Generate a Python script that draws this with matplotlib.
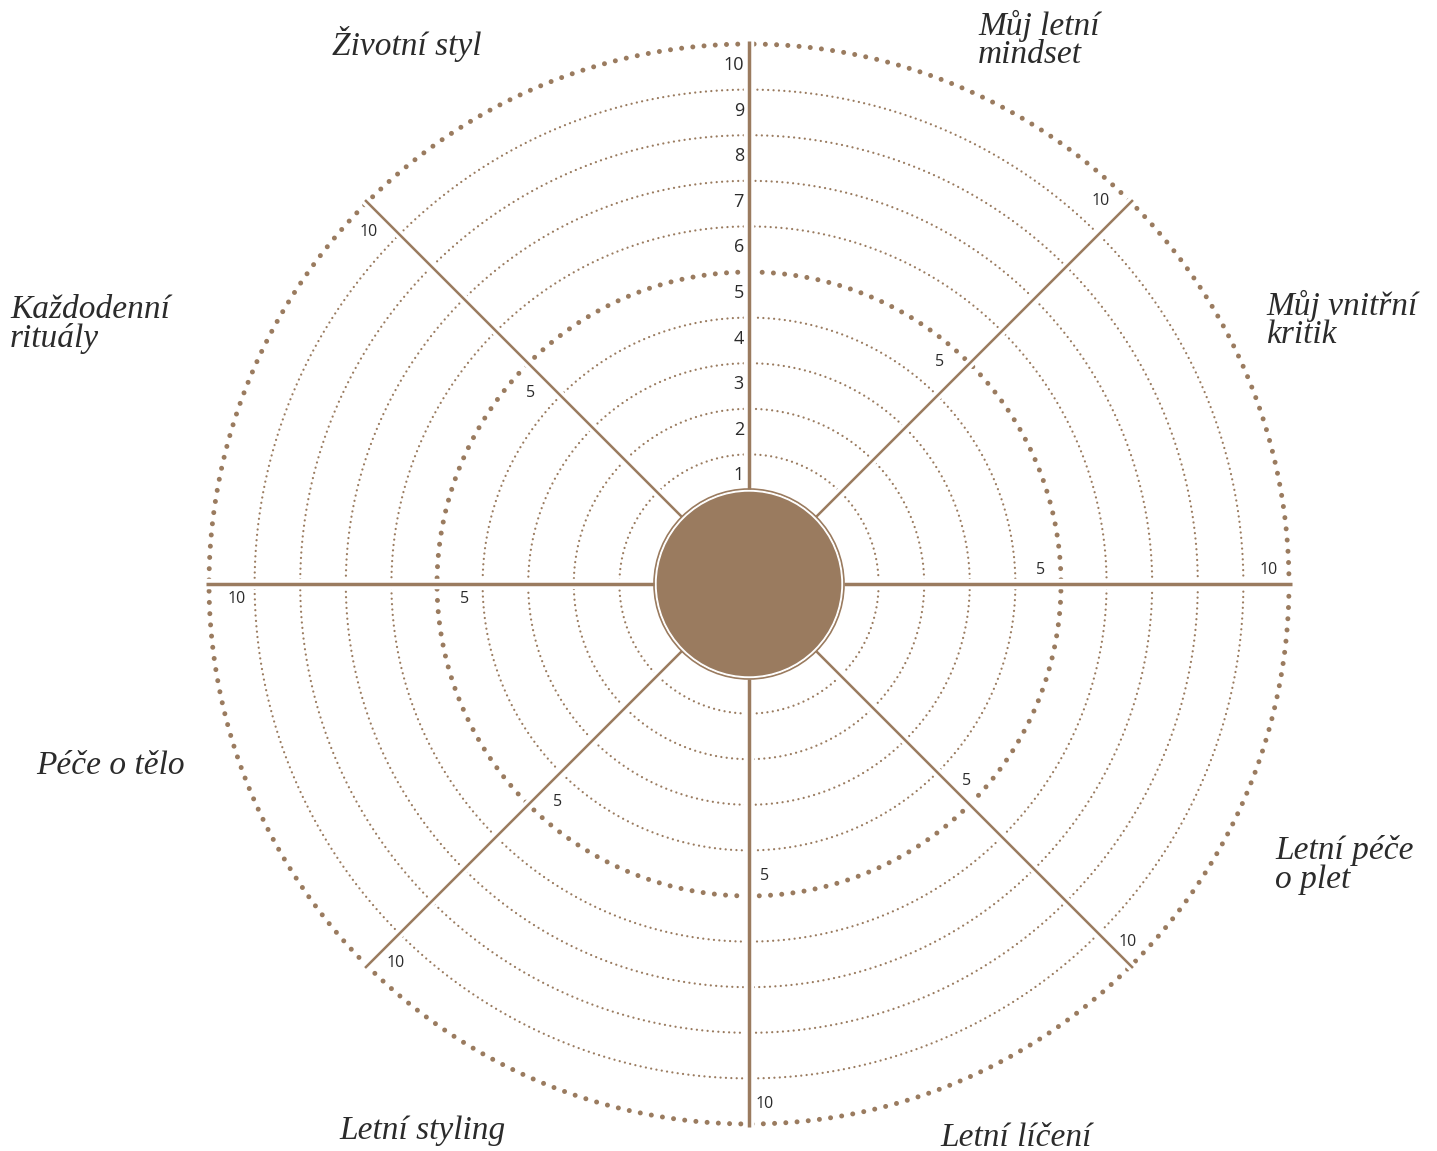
import numpy as np
import matplotlib
matplotlib.use("Agg")
import matplotlib.pyplot as plt
from matplotlib.patches import Circle
import matplotlib.patheffects as pe

# ---------------- data ----------------
categories = ["Životní styl", "Můj letní\nmindset", "Můj vnitřní\nkritik", "Letní péče\no plet",
              "Letní líčení", "Letní styling", "Péče o tělo", "Každodenní\nrituály"]
ring_values = [1, 2, 3, 4, 5, 6, 7, 8, 9, 10]
major_rings = [5, 10]
spoke_angles = [90, 45, 0, -45, -90, -135, 180, 135]   # degrees
top_tick_labels = ["1", "2", "3", "4", "5", "6", "7", "8", "9", "10"]
spoke_tick_values = [5, 10]

# ---------------- style ----------------
BROWN = "#9a7b5f"
TEXT = "#2b2b2b"
W, H = 1437, 1151
CX, CY = 749, 584           # wheel centre in pixels (from top-left)
R0, DR = 84.0, 45.6         # radius mapping r = R0 + DR*v
DISK_R = 93

def rad(v):
    return R0 + DR * v

fig = plt.figure(figsize=(W / 100, H / 100), dpi=100)
ax = fig.add_axes([0, 0, 1, 1])
ax.set_xlim(-CX, W - CX)
ax.set_ylim(-(H - CY), CY)
ax.set_aspect("equal")
ax.axis("off")

t = np.linspace(0, 2 * np.pi, 1500)
for v in ring_values:
    r = rad(v)
    if v in major_rings:
        lw, pat = 3.6, (0, (0.001, 2.25))
    else:
        lw, pat = 1.65, (0, (0.001, 2.35))
    ax.plot(r * np.cos(t + np.pi / 2), r * np.sin(t + np.pi / 2), color=BROWN, lw=lw,
            linestyle=pat, dash_capstyle="round", zorder=2)

# spokes
for a in spoke_angles:
    th = np.deg2rad(a)
    lw = 2.5 if a % 90 == 0 else 1.8
    r1, r2 = DISK_R + 2, rad(10) + 3
    ax.plot([r1 * np.cos(th), r2 * np.cos(th)], [r1 * np.sin(th), r2 * np.sin(th)],
            color=BROWN, lw=lw, solid_capstyle="butt", zorder=3,
            path_effects=[pe.Stroke(linewidth=lw + 5, foreground="white"), pe.Normal()])

# centre disk
ax.add_patch(Circle((0, 0), DISK_R + 2, facecolor="none", edgecolor=BROWN, lw=1.2, zorder=4))
ax.add_patch(Circle((0, 0), DISK_R, facecolor=BROWN, edgecolor="white", lw=1.0, zorder=5))

# tick labels on the top spoke
for v, lab in zip(ring_values, top_tick_labels):
    ax.text(-5, rad(v) - 21, lab, ha="right", va="center", zorder=6,
            family="Open Sans", color=TEXT, fontsize=13)

# tick labels on the other spokes: offsets (dx, dy) in pixels from ring/spoke crossing
spoke_offsets = {45: (-30, 1), 0: (-20, 14), -45: (-3, 24), -90: (16, 20),
                 -135: (29, 3), 180: (28, -15), 135: (2, -30)}
for a, (dx, dy) in spoke_offsets.items():
    th = np.deg2rad(a)
    for v in spoke_tick_values:
        r = rad(v)
        ax.text(r * np.cos(th) + dx, r * np.sin(th) + dy, str(v), ha="center", va="center",
                zorder=6, family="Open Sans", color=TEXT, fontsize=11.5)

# category labels (pixel positions from top-left, alignment)
cat_pos = [(407, 44, "center"), (978, 40, "left"), (1266, 320, "left"), (1275, 865, "left"),
           (1016, 1138, "center"), (423, 1131, "center"), (110, 766, "center"), (10, 324, "left")]
for lab, (px, py, ha) in zip(categories, cat_pos):
    ax.text(px - CX, CY - py, lab, ha=ha, va="center", fontsize=24, style="italic",
            family="Liberation Serif", color=TEXT, linespacing=0.9, zorder=6)

fig.savefig("out.png", dpi=100, facecolor="white")
